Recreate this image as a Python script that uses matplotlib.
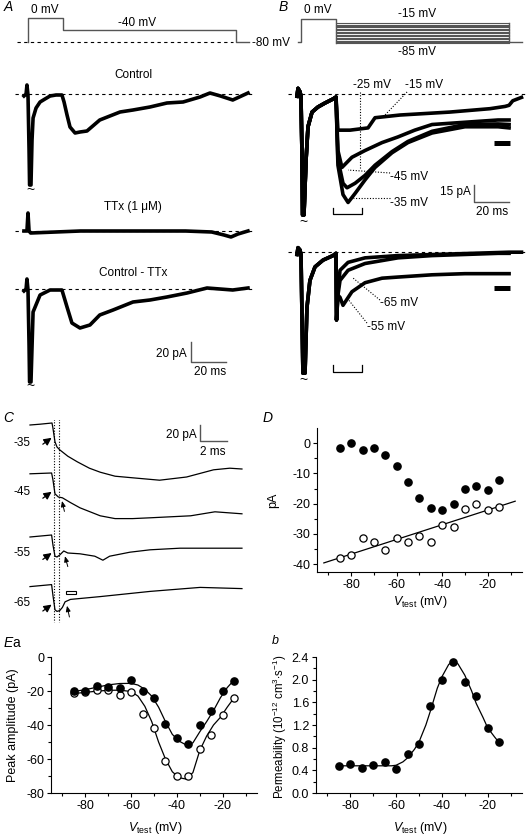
import matplotlib
matplotlib.use("Agg")
import matplotlib.pyplot as plt
from matplotlib.patches import Rectangle

plt.rcParams['font.family'] = ['Liberation Sans', 'DejaVu Sans']
plt.rcParams['axes.unicode_minus'] = False
plt.rcParams['mathtext.fontset'] = 'custom'
plt.rcParams['mathtext.rm'] = 'Liberation Sans'
plt.rcParams['mathtext.it'] = 'Liberation Sans:italic'
plt.rcParams['mathtext.bf'] = 'Liberation Sans:bold'

# ======================= DATA =======================
# ---- Panel A: voltage protocol (ms, mV)
PROT_A_T = [0, 0, 20, 20, 119, 119, 126]
PROT_A_V = [-80, 0, 0, -40, -40, -80, -80]
# ---- Panel A: currents (ms, pA)
A_CTRL_T = [-2.3, -1.1, -0.6, 0.0, 0.6, 0.9, 1.7, 2.3, 2.9, 4.6, 6.9, 9.7, 12.6, 16.0, 19.4, 20.6,
            22.3, 24.0, 26.9, 29.7, 33.7, 41.0, 52.6, 60.0, 69.7, 79.4, 88.6, 98.3, 104.0, 110.0, 117.0, 125.7]
A_CTRL_I = [-2, 0, 9, -1, -56, -91, -91, -46, -24, -14, -8, -5, -2, -1, -1, -8,
            -21, -33, -39, -38, -37, -26, -18, -16, -13, -9, -8, -3, 1, -2, -6, 1]
A_TTX_T = [-2.3, -0.6, 0.0, 0.6, 1.5, 30, 60, 90, 105, 112, 116, 120, 125.7]
A_TTX_I = [0, 0, 18, 0, -2, 0, 0, 0, -1, -4, -6, -3, 0]
A_DIFF_T = [-2.3, -1.1, -0.6, 0.0, 0.6, 0.9, 1.7, 2.9, 6.9, 12.6, 19.4, 22.3, 25.1, 29.7, 35.4, 41.0,
            48.6, 60.0, 69.7, 79.4, 90.9, 102.3, 117.0, 125.7]
A_DIFF_I = [-2, 0, 10, -1, -56, -93, -93, -23, -6, -1, -1, -18, -34, -39, -36, -26,
            -21, -13, -11, -8, -4, 1, -1, 1]

# ---- Panel B: protocol
PROT_B_LEVELS = [-85, -80, -75, -70, -65, -60, -55, -50, -45, -40, -35, -30, -25, -20, -15]
PROT_B_T = [0, 20, 118.9]          # step on, step off, test end (ms)
# ---- Panel B: currents, upper set (common part before test, then per test potential)
B_UP_PRE_T = [-2.3, -1.7, -0.6, 0.0, 0.6, 0.9, 1.7, 2.9, 4.0, 6.3, 9.7, 13.7, 18.3, 20.0]
B_UP_PRE_I = [-2, 5, 2, -2, -58, -107, -107, -58, -29, -16, -11.5, -8, -4.4, -2.7]
B_M15_T = [21.1, 28.0, 38.3, 42.3, 56.6, 85.0, 108.0, 116.6, 118.9, 121.0, 126.0]
B_M15_I = [-32, -32, -30, -21, -18.6, -16, -13, -11, -10, -6, -3]
B_M25_T = [21.1, 23.4, 29.1, 36.6, 46.3, 55.4, 65.0, 74.9, 93.7, 112.6, 118.9]
B_M25_I = [-50, -65, -56, -50, -43, -38, -32, -27, -25, -23, -23]
B_M35_T = [21.1, 24.0, 26.9, 30.9, 36.6, 42.3, 52.0, 61.1, 74.9, 93.7, 112.6, 118.9]
B_M35_I = [-63, -89, -96, -88, -76, -65, -52, -43, -34.5, -29, -29, -30]
B_M45_T = [21.1, 24.0, 26.3, 30.9, 36.6, 42.3, 52.0, 61.1, 74.9, 93.7, 112.6, 118.9]
B_M45_I = [-58, -79, -83, -79, -72, -63, -51, -42, -33, -27, -26.5, -27]
# ---- Panel B: lower set
B_LO_PRE_T = [-2.3, -1.7, -0.6, 0.0, 0.6, 1.1, 2.3, 3.4, 5.1, 8.0, 12.6, 18.3, 20.0]
B_LO_PRE_I = [-2, 4, 2, -2, -60, -107, -107, -49, -25, -13, -7, -3, -1]
B_M55_T = [20.3, 21.1, 22.3, 24.0, 29.1, 36.6, 46.3, 55.4, 74.9, 93.7, 112.6, 118.9]
B_M55_I = [-60, -38, -40, -47, -35, -27, -23, -22, -20, -19, -19, -19]
B_M65_T = [20.3, 21.1, 22.3, 26.9, 36.6, 55.4, 74.9, 112.6, 118.9]
B_M65_I = [-60, -38, -25, -16, -10, -5, -3, -1, -1]
B_M75_T = [20.3, 21.1, 22.3, 26.9, 36.6, 55.4, 118.9, 126.0]
B_M75_I = [-60, -34, -16, -9, -5, -3, 0, 0]

# ---- Panel C: expanded traces (ms, pA)
C_LABELS = ['-35', '-45', '-55', '-65']
C_T = [
    [0, 0.74, 1.63, 1.7, 1.85, 2.0, 2.2, 2.8, 3.5, 4.4, 5.2, 6.3, 7.6, 9.6, 11.6, 13.6, 14.8, 15.7],
    [0, 1.6, 1.7, 1.85, 2.1, 2.4, 3.0, 3.7, 5.2, 6.3, 7.6, 8.9, 11.9, 13.7, 15.7],
    [0, 1.6, 1.7, 1.85, 2.0, 2.2, 2.5, 2.8, 3.7, 4.8, 5.4, 5.9, 7.4, 8.9, 11.1, 15.7],
    [0, 1.6, 1.7, 1.85, 2.0, 2.2, 2.4, 2.6, 3.0, 5.2, 8.9, 12.6, 15.7],
]
C_I = [
    [0, 1, 2.5, -4, -21, -27.5, -31, -39, -46, -54, -59, -64, -66, -69, -65, -56, -54, -55],
    [0, 1, -7.5, -25, -29, -30, -36, -42.5, -52.5, -56, -56, -55, -52.5, -47.5, -50],
    [0, 2.5, -10, -24, -25, -22.5, -17.5, -20, -21, -24, -29, -24, -19, -16, -14, -14],
    [0, 2.5, -11, -29, -31, -30, -26, -19, -16, -12.5, -6, -1, -2.5],
]

# ---- Panels D and E
V_TEST = [-85, -80, -75, -70, -65, -60, -55, -50, -45, -40, -35, -30, -25, -20, -15]
D_FILLED = [-1.5, 0, -2.2, -1.5, -3.8, -7.5, -13, -18, -21.5, -22, -20.1, -15, -14.3, -15.4, -12.1]
D_OPEN = [-37.9, -36.9, -31.2, -32.7, -35.3, -31.2, -32.7, -30.8, -32.7, -26.9, -27.7, -21.8, -20.1, -22.2, -21.0]
D_FIT_V = [-92, -8]
D_FIT_I = [-39.6, -19.2]

EA_FILLED = [-20, -20, -16.9, -17.8, -18, -13.5, -19.8, -23.9, -39.6, -47.6, -51, -40, -32, -19.8, -14.1]
EA_OPEN = [-21.2, -20.5, -19.4, -19.4, -22.2, -20.8, -33.3, -42, -61.2, -69.8, -70.2, -53.9, -45.7, -33.9, -24.3]
EA_FIT_V = [-85, -80, -75, -70, -65, -60, -57, -54, -51, -48, -45, -42, -39, -36, -33, -30, -27, -24, -21, -18, -15]
EA_FIT_FILLED = [-20.3, -19.2, -17.8, -16.4, -15.6, -15.5, -16.5, -19, -23, -29.5, -38, -45.5, -49.5, -51.7,
                 -50.5, -44, -38, -31.5, -24, -18, -13.5]
EA_FIT_OPEN = [-21.5, -20.8, -20.1, -19.6, -19.5, -20.3, -23, -29, -38, -50, -60, -67.5, -71, -71.8,
               -68, -55, -46.5, -40, -35.5, -29.5, -24]

EB_PERM = [0.47, 0.51, 0.45, 0.49, 0.54, 0.42, 0.69, 0.86, 1.54, 1.99, 2.31, 1.96, 1.71, 1.14, 0.90]
EB_FIT_V = [-85, -80, -75, -70, -65, -62, -60, -57, -55, -52, -50, -47, -45, -42, -40, -37, -35, -33, -30,
            -27, -25, -22, -20, -17, -15]
EB_FIT = [0.48, 0.48, 0.48, 0.48, 0.48, 0.48, 0.49, 0.55, 0.62, 0.77, 0.90, 1.20, 1.45, 1.85, 2.05, 2.27,
          2.32, 2.28, 2.08, 1.80, 1.58, 1.33, 1.15, 0.99, 0.89]

# ======================= LAYOUT =======================
W, H = 529, 835
fig = plt.figure(figsize=(W / 100, H / 100), dpi=100)
GRAY = '#555555'
TRACE_LW = 2.6
FS = 8.5


def px_axes(x0, y0, x1, y1):
    return fig.add_axes([x0 / W, 1 - y1 / H, (x1 - x0) / W, (y1 - y0) / H])


def trace_axes(x0, y0, x1, y1, x_zero, px_per_x, y_zero, px_per_y):
    ax = px_axes(x0, y0, x1, y1)
    ax.set_xlim((x0 - x_zero) / px_per_x, (x1 - x_zero) / px_per_x)
    ax.set_ylim(-(y1 - y_zero) / px_per_y, (y_zero - y0) / px_per_y)
    ax.axis('off')
    return ax


def ftext(x, y, s, **kw):
    kw.setdefault('ha', 'center')
    kw.setdefault('va', 'center')
    kw.setdefault('fontsize', FS)
    fig.text(x / W, 1 - y / H, s, **kw)


def shifted(vals, off):
    return [v + off for v in vals]


# ---------------- Panel A ----------------
axp = trace_axes(0, 0, 265, 60, 28, 1.75, 18, 0.3)
axp.plot(PROT_A_T, PROT_A_V, color=GRAY, lw=1.0)
axp.plot([-6.3, 117], [-80, -80], color='k', lw=0.8, ls=(0, (3, 3)))
ftext(45, 10, '0 mV')
ftext(137, 23, '-40 mV')
ftext(271, 43, '-80 mV')
ftext(8, 7, 'A', style='italic', fontsize=10)

axa = trace_axes(0, 60, 265, 415, 28, 1.75, 94, 1.0)
A_OFF = [0, -137, -195]
for (tt, ii), off in zip([(A_CTRL_T, A_CTRL_I), (A_TTX_T, A_TTX_I), (A_DIFF_T, A_DIFF_I)], A_OFF):
    axa.plot([-7.4, 129.7], [off, off], color='k', lw=0.8, ls=(0, (3, 3)))
    axa.plot(tt, shifted(ii, off), color='k', lw=TRACE_LW, solid_joinstyle='round')
ftext(133, 75, 'Control')
ftext(133, 207, 'TTx (1 \u03bcM)')
ftext(133, 273, 'Control - TTx')
ftext(30, 190, '~', fontsize=10)
ftext(30, 386, '~', fontsize=10)
# scale bar 20 pA / 20 ms
sbt, sbi = 93.1, -268
axa.plot([sbt, sbt, sbt + 20], [sbi + 20, sbi, sbi], color=GRAY, lw=1.0)
ftext(187, 354, '20 pA', ha='right')
ftext(210, 372, '20 ms')

# ---------------- Panel B ----------------
axq = trace_axes(265, 0, 529, 60, 301, 1.75, 18.8, 0.29)
t_on, t_off, t_end = PROT_B_T
axq.plot([-1.7, t_on, t_on, t_off, t_off], [-80, -80, 0, 0, min(PROT_B_LEVELS)], color=GRAY, lw=1.0)
for lv in PROT_B_LEVELS:
    axq.plot([t_off, t_end], [lv, lv], color=GRAY, lw=0.8)
axq.plot([t_end, t_end, 126], [max(PROT_B_LEVELS), -80, -80], color=GRAY, lw=1.0)
ftext(318, 10, '0 mV')
ftext(417, 14, '-15 mV')
ftext(417, 52, '-85 mV')
ftext(283, 7, 'B', style='italic', fontsize=10)

axb = trace_axes(265, 60, 529, 415, 301, 1.75, 94, 1.13)
B_OFF = [0, -140]
for off in B_OFF:
    axb.plot([-7.4, 129.7], [off, off], color='k', lw=0.8, ls=(0, (3, 3)))
for tt, ii in [(B_M15_T, B_M15_I), (B_M25_T, B_M25_I), (B_M35_T, B_M35_I), (B_M45_T, B_M45_I)]:
    axb.plot(B_UP_PRE_T + tt, B_UP_PRE_I + ii, color='k', lw=TRACE_LW, solid_joinstyle='round')
for tt, ii in [(B_M55_T, B_M55_I), (B_M65_T, B_M65_I), (B_M75_T, B_M75_I)]:
    axb.plot(B_LO_PRE_T + tt, shifted(B_LO_PRE_I + ii, B_OFF[1]), color='k', lw=TRACE_LW,
             solid_joinstyle='round')
# label leader lines
dot = dict(color='k', lw=0.8, ls=(0, (1, 1.5)))
axb.plot([33.7, 33.7], [1.8, -65.5], **dot)
axb.plot([60.6, 48.0], [1.8, -18.6], **dot)
axb.plot([50.9, 26.9], [-69.9, -67.3], **dot)
axb.plot([50.9, 29.7], [-92, -92], **dot)
axb.plot([45.1, 29.7], [-182.3, -162.8], **dot)
axb.plot([37.7, 26.3], [-202.7, -180.5], **dot)
ftext(372, 85, '-25 mV')
ftext(424, 85, '-15 mV')
ftext(390, 177, '-45 mV', ha='left')
ftext(390, 203, '-35 mV', ha='left')
ftext(380, 303, '-65 mV', ha='left')
ftext(367, 327, '-55 mV', ha='left')
ftext(303, 222, '~', fontsize=10)
ftext(303, 380, '~', fontsize=10)
# black bars and brackets
for y in [-43.4, -171.7]:
    axb.plot([110.3, 119.4], [y, y], color='k', lw=3.6, solid_capstyle='butt')
for yb, yt in [(-106.2, -100.9), (-246, -239.8)]:
    axb.plot([18.3, 18.3, 34.9, 34.9], [yt, yb, yb, yt], color='k', lw=0.9)
# scale bar 15 pA / 20 ms
sbt, sbi = 98.9, -95.6
axb.plot([sbt, sbt, sbt + 20], [sbi + 15, sbi, sbi], color=GRAY, lw=1.0)
ftext(471, 192, '15 pA', ha='right')
ftext(492, 212, '20 ms')

# ---------------- Panel C ----------------
axc = trace_axes(0, 420, 265, 625, 30, 13.5, 425, 0.8)
C_OFF = [0, -61, -140, -202]
C_LABEL_Y = [443, 492, 553, 603]
C_ARROW_HEAD = [-16, -22.5, -20, -22.5]
big_arrow = dict(arrowstyle='-|>,head_length=0.7,head_width=0.35', color='k', lw=0.9,
                 mutation_scale=6.5, shrinkA=0, shrinkB=0)
small_arrow = dict(arrowstyle='-|>,head_length=0.6,head_width=0.25', color='k', lw=0.7,
                   mutation_scale=5.5, shrinkA=0, shrinkB=0)
for tt, ii, off, lab, ly, ah in zip(C_T, C_I, C_OFF, C_LABELS, C_LABEL_Y, C_ARROW_HEAD):
    axc.plot(tt, shifted(ii, off), color='k', lw=0.9)
    ftext(22, ly, lab)
    axc.annotate('', xy=(1.6, off + ah), xytext=(0.95, off + ah - 8), arrowprops=big_arrow)
small_arrows = [((2.37, -95), (2.55, -108)), ((2.59, -164), (2.8, -177)), ((2.74, -226), (2.92, -240))]
for head, tail in small_arrows:
    axc.annotate('', xy=head, xytext=tail, arrowprops=small_arrow)
axc.add_patch(Rectangle((2.67, -211), 0.74, 4, fill=False, ec='k', lw=0.8))
for tv in [1.78, 2.15]:
    axc.plot([tv, tv], [8, -246], color='k', lw=0.8, ls=(0, (1, 1.5)))
sbt, sbi = 12.6, -20
axc.plot([sbt, sbt, sbt + 2], [sbi + 20, sbi, sbi], color=GRAY, lw=1.0)
ftext(197, 435, '20 pA', ha='right')
ftext(213, 452, '2 ms')
ftext(8, 418, 'C', style='italic', fontsize=10)


# ---------------- axes styling ----------------
def style(ax):
    for s in ['top', 'right']:
        ax.spines[s].set_visible(False)
    for s in ['left', 'bottom']:
        ax.spines[s].set_linewidth(0.8)
    ax.tick_params(which='major', direction='out', length=3, width=0.8, labelsize=9, pad=2)
    ax.tick_params(which='minor', direction='out', length=2, width=0.8)
    ax.patch.set_alpha(0)
    ax.set_xlim(-95, -5)
    ax.set_xticks([-80, -60, -40, -20])
    ax.set_xticks([-90, -70, -50, -30, -10], minor=True)


MS = 5.2
XLAB = r'$\mathit{V}_{\mathrm{test}}$ (mV)'

# ---------------- Panel D ----------------
axd = px_axes(317, 428, 522, 572)
style(axd)
axd.set_ylim(-42.6, 5)
axd.set_yticks([0, -10, -20, -30, -40])
axd.set_yticks([-5, -15, -25, -35], minor=True)
axd.plot(D_FIT_V, D_FIT_I, color='k', lw=0.9)
axd.plot(V_TEST, D_FILLED, 'o', color='k', ms=MS, clip_on=False)
axd.plot(V_TEST, D_OPEN, 'o', mfc='white', mec='k', mew=0.9, ms=MS, clip_on=False)
ftext(273, 500, 'pA', rotation=90, fontsize=9)
ftext(420, 602, XLAB, fontsize=9)
ftext(268, 418, 'D', style='italic', fontsize=10)

# ---------------- Panel Ea ----------------
axe = px_axes(51, 657, 257, 793)
style(axe)
axe.set_ylim(-80, 0)
axe.set_yticks([0, -20, -40, -60, -80])
axe.set_yticks([-10, -30, -50, -70], minor=True)
axe.plot(EA_FIT_V, EA_FIT_FILLED, color='k', lw=0.9)
axe.plot(EA_FIT_V, EA_FIT_OPEN, color='k', lw=0.9)
axe.plot(V_TEST, EA_OPEN, 'o', mfc='white', mec='k', mew=0.9, ms=MS, clip_on=False)
axe.plot(V_TEST, EA_FILLED, 'o', color='k', ms=MS, clip_on=False)
ftext(13, 725, 'Peak amplitude (pA)', rotation=90, fontsize=9)
ftext(155, 828, XLAB, fontsize=9)
ftext(3, 643, r'$\mathit{E}$a', ha='left', fontsize=10)

# ---------------- Panel Eb ----------------
axf = px_axes(316, 657, 522, 793)
style(axf)
axf.set_ylim(0, 2.4)
axf.set_yticks([0.0, 0.4, 0.8, 1.2, 1.6, 2.0, 2.4])
axf.set_yticks([0.2, 0.6, 1.0, 1.4, 1.8, 2.2], minor=True)
axf.yaxis.set_major_formatter(matplotlib.ticker.FormatStrFormatter('%.1f'))
axf.plot(EB_FIT_V, EB_FIT, color='k', lw=0.9)
axf.plot(V_TEST, EB_PERM, 'o', color='k', ms=MS, clip_on=False)
ftext(280, 727, r'Permeability (10$^{-12}$ cm$^{3}$$\cdot$s$^{-1}$)', rotation=90, fontsize=8.3)
ftext(420, 828, XLAB, fontsize=9)
ftext(275, 641, 'b', style='italic', fontsize=9)

fig.savefig('out.png', dpi=100)
